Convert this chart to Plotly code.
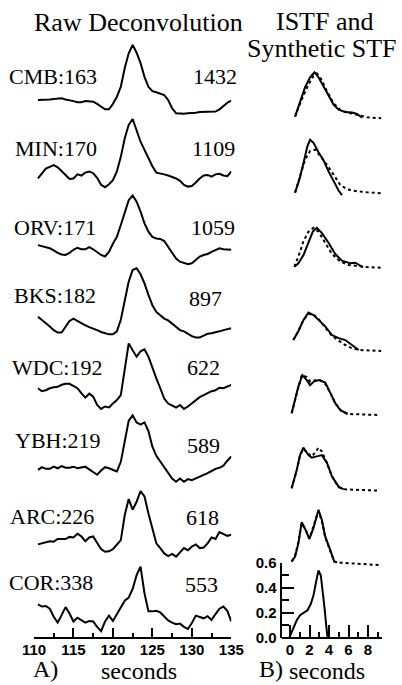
import plotly.graph_objects as go

W, H = 402, 685

# ---------------- data ----------------
STATIONS = ["CMB:163", "MIN:170", "ORV:171", "BKS:182", "WDC:192", "YBH:219", "ARC:226", "COR:338"]
AMPLITUDES = ["1432", "1109", "1059", "897", "622", "589", "618", "553"]

# sample times (s) of the raw deconvolutions
T_RAW = [110.5, 111.0, 111.5, 112.0, 112.5, 113.0, 113.5, 114.0, 114.5, 115.0,
         115.5, 116.0, 116.5, 117.0, 117.5, 118.0, 118.5, 119.0, 119.5, 120.0,
         120.5, 121.0, 121.5, 122.0, 122.5, 123.0, 123.5, 124.0, 124.5, 125.0,
         125.5, 126.0, 126.5, 127.0, 127.5, 128.0, 128.5, 129.0, 129.5, 130.0,
         130.5, 131.0, 131.5, 132.0, 132.5, 133.0, 133.5, 134.0, 134.5, 135.0]

RAW_CMB = [0.00, 0.00, 0.01, 0.01, 0.02, 0.03, 0.03, 0.01, 0.00, -0.02,
           -0.04, -0.04, -0.02, -0.02, -0.03, -0.07, -0.12, -0.17, -0.17, -0.07,
           0.06, 0.24, 0.58, 0.85, 1.00, 0.86, 0.67, 0.42, 0.24, 0.16,
           0.14, 0.12, 0.09, 0.00, -0.15, -0.24, -0.25, -0.25, -0.24, -0.24,
           -0.23, -0.22, -0.22, -0.22, -0.22, -0.21, -0.17, -0.11, -0.05, -0.01]
RAW_MIN = [-0.03, 0.06, 0.14, 0.17, 0.20, 0.16, 0.10, 0.03, -0.04, -0.03,
           0.04, 0.02, 0.07, 0.09, 0.06, -0.02, -0.14, -0.18, -0.13, -0.06,
           0.09, 0.34, 0.66, 0.89, 0.99, 0.80, 0.60, 0.46, 0.31, 0.18,
           0.07, 0.06, 0.04, 0.02, 0.00, -0.03, -0.07, -0.14, -0.17, -0.16,
           -0.10, -0.03, 0.02, 0.03, 0.00, 0.04, 0.05, 0.02, 0.01, 0.09]
RAW_ORV = [0.03, 0.01, -0.01, -0.03, -0.07, -0.12, -0.15, -0.16, -0.12, -0.06,
           -0.02, -0.05, -0.05, -0.01, -0.05, -0.10, -0.16, -0.19, -0.10, 0.06,
           0.19, 0.42, 0.68, 0.90, 0.99, 0.87, 0.68, 0.45, 0.29, 0.19,
           0.16, 0.15, 0.11, 0.00, -0.13, -0.23, -0.29, -0.32, -0.34, -0.32,
           -0.26, -0.19, -0.16, -0.14, -0.10, -0.06, -0.03, -0.05, -0.05, -0.06]
RAW_BKS = [0.19, 0.14, 0.08, 0.03, -0.03, -0.07, -0.07, 0.03, 0.12, 0.16,
           0.12, 0.08, 0.05, 0.02, 0.00, -0.03, -0.06, -0.08, -0.10, -0.10,
           -0.05, 0.14, 0.47, 0.77, 0.96, 0.99, 0.89, 0.74, 0.55, 0.38,
           0.27, 0.22, 0.16, 0.13, 0.08, 0.03, -0.03, -0.05, -0.09, -0.13,
           -0.15, -0.15, -0.12, -0.09, -0.08, -0.07, -0.05, -0.03, -0.02, 0.00]
RAW_WDC = [0.07, 0.01, 0.03, 0.07, 0.09, 0.10, 0.14, 0.16, 0.16, 0.12,
           0.07, -0.03, -0.12, -0.04, -0.10, -0.27, -0.35, -0.30, -0.32, -0.24,
           -0.17, -0.07, 0.41, 0.98, 0.84, 0.71, 0.82, 0.86, 0.71, 0.47,
           0.27, 0.07, -0.14, -0.24, -0.28, -0.32, -0.27, -0.35, -0.30, -0.24,
           -0.17, -0.11, -0.07, -0.03, 0.01, 0.03, 0.08, 0.07, 0.10, 0.14]
RAW_YBH = [-0.03, 0.02, -0.01, -0.01, 0.03, 0.00, 0.04, 0.01, 0.01, 0.03,
           0.00, 0.01, 0.03, -0.02, -0.07, -0.12, -0.04, 0.02, 0.00, -0.03,
           -0.06, 0.12, 0.49, 0.88, 0.98, 0.85, 0.81, 0.85, 0.69, 0.40,
           0.23, 0.12, 0.03, -0.09, -0.19, -0.25, -0.19, -0.25, -0.20, -0.22,
           -0.19, -0.15, -0.12, -0.09, -0.05, -0.01, 0.01, 0.05, 0.14, 0.22]
RAW_ARC = [-0.02, 0.00, 0.03, 0.04, 0.03, 0.08, 0.08, 0.08, 0.12, 0.11,
           0.18, 0.13, 0.04, 0.11, 0.13, 0.00, -0.11, -0.16, -0.15, -0.11,
           -0.03, 0.06, 0.53, 0.83, 0.63, 0.78, 0.98, 0.88, 0.56, 0.25,
           0.00, -0.09, -0.19, -0.24, -0.20, -0.25, -0.16, -0.09, -0.13, -0.06,
           -0.02, -0.09, -0.08, 0.00, 0.11, 0.08, 0.21, 0.17, 0.14, 0.16]
RAW_COR = [0.26, 0.22, 0.23, 0.18, 0.03, -0.08, 0.06, 0.21, 0.09, -0.06,
           0.01, -0.03, -0.08, -0.05, -0.06, -0.16, -0.24, -0.06, 0.05, -0.05,
           0.08, 0.20, 0.33, 0.39, 0.55, 0.81, 0.97, 0.47, 0.13, 0.13,
           0.14, 0.11, 0.03, -0.04, -0.08, -0.11, -0.10, -0.16, -0.20, -0.09,
           0.05, 0.03, 0.00, 0.04, -0.03, 0.08, 0.18, 0.22, 0.14, -0.06]
RAW = [RAW_CMB, RAW_MIN, RAW_ORV, RAW_BKS, RAW_WDC, RAW_YBH, RAW_ARC, RAW_COR]

# ISTF (solid) and synthetic STF (dotted): times (s) and values
ISTF_T = [
    [0.52, 1.03, 1.55, 2.06, 2.51, 2.92, 3.44, 3.95, 4.47, 4.98, 5.67, 6.36, 6.87, 7.22, 7.39],
    [0.52, 0.96, 1.37, 1.79, 2.06, 2.41, 2.92, 3.44, 3.95, 4.47, 4.98, 5.33],
    [0.45, 0.86, 1.37, 1.89, 2.34, 2.75, 3.26, 3.95, 4.64, 5.33, 6.19, 6.70, 7.15, 7.49],
    [0.34, 0.86, 1.37, 1.89, 2.41, 2.92, 3.61, 4.30, 4.98, 5.67, 6.19, 6.70, 7.04],
    [0.17, 0.52, 0.86, 1.27, 1.72, 2.06, 2.47, 3.02, 3.61, 4.12, 4.64, 5.15, 5.67, 5.91],
    [0.17, 0.69, 1.03, 1.37, 1.89, 2.23, 2.75, 3.26, 3.78, 4.30, 4.98, 5.50],
    [0.17, 0.52, 0.86, 1.20, 1.55, 1.99, 2.41, 2.92, 3.26, 3.61, 4.12, 4.54, 4.81],
    [-0.07, 0.34, 0.69, 1.03, 1.37, 1.79, 2.13, 2.41, 2.68, 2.92, 3.16, 3.37, 3.54, 3.71, 3.85],
]
ISTF_V = [
    [0.014, 0.135, 0.25, 0.33, 0.37, 0.33, 0.26, 0.18, 0.11, 0.07, 0.05, 0.046, 0.035, 0.014, 0.005],
    [0.005, 0.11, 0.24, 0.38, 0.43, 0.405, 0.33, 0.265, 0.176, 0.095, 0.022, -0.014],
    [0.008, 0.035, 0.10, 0.21, 0.29, 0.32, 0.28, 0.20, 0.11, 0.057, 0.035, 0.04, 0.022, 0.003],
    [0.08, 0.15, 0.24, 0.30, 0.28, 0.24, 0.19, 0.12, 0.095, 0.08, 0.049, 0.014, 0.0],
    [0.014, 0.12, 0.23, 0.32, 0.28, 0.24, 0.27, 0.28, 0.26, 0.18, 0.095, 0.04, 0.014, 0.008],
    [0.014, 0.16, 0.28, 0.34, 0.28, 0.26, 0.27, 0.28, 0.22, 0.11, 0.027, 0.005],
    [0.014, 0.054, 0.16, 0.33, 0.276, 0.195, 0.284, 0.43, 0.35, 0.216, 0.108, 0.014, 0.005],
    [0.0, 0.075, 0.14, 0.18, 0.195, 0.22, 0.27, 0.34, 0.45, 0.54, 0.50, 0.37, 0.24, 0.10, 0.0],
]
SYN_T = [
    [0.52, 1.20, 1.89, 2.41, 2.75, 3.16, 3.78, 4.47, 5.15, 5.84, 6.53, 7.22, 7.90, 9.35],
    [0.52, 1.03, 1.55, 2.06, 2.58, 3.09, 3.78, 4.47, 5.15, 5.84, 6.87, 7.90, 9.35],
    [0.45, 0.86, 1.37, 1.89, 2.41, 2.92, 3.61, 4.30, 5.15, 6.01, 6.87, 7.90, 9.35],
    [0.34, 0.86, 1.37, 1.89, 2.41, 2.92, 3.61, 4.30, 4.98, 5.67, 6.36, 7.22, 9.35],
    [0.17, 0.52, 0.86, 1.20, 1.72, 2.06, 2.58, 3.09, 3.61, 4.12, 4.64, 5.33, 6.01, 7.22, 9.21],
    [0.17, 0.69, 1.03, 1.37, 1.89, 2.23, 2.58, 2.92, 3.26, 3.78, 4.30, 4.98, 5.67, 7.22, 9.11],
    [0.17, 0.52, 0.86, 1.20, 1.55, 1.99, 2.41, 2.92, 3.26, 3.61, 4.12, 4.54, 5.15, 7.22, 9.11],
    [],
]
SYN_V = [
    [0.014, 0.15, 0.27, 0.34, 0.36, 0.32, 0.22, 0.12, 0.068, 0.046, 0.035, 0.019, 0.008, 0.0],
    [0.005, 0.135, 0.27, 0.34, 0.35, 0.30, 0.23, 0.15, 0.068, 0.032, 0.016, 0.008, 0.0],
    [0.008, 0.09, 0.21, 0.29, 0.32, 0.29, 0.20, 0.11, 0.049, 0.022, 0.014, 0.005, 0.0],
    [0.08, 0.154, 0.24, 0.29, 0.284, 0.25, 0.18, 0.114, 0.076, 0.04, 0.014, 0.0, -0.008],
    [0.014, 0.116, 0.23, 0.32, 0.305, 0.27, 0.28, 0.28, 0.25, 0.18, 0.095, 0.027, 0.008, 0.005, 0.0],
    [0.014, 0.157, 0.276, 0.33, 0.29, 0.27, 0.30, 0.34, 0.31, 0.22, 0.11, 0.022, 0.005, 0.0, -0.005],
    [0.014, 0.06, 0.17, 0.32, 0.28, 0.20, 0.30, 0.42, 0.34, 0.21, 0.10, 0.014, 0.005, -0.005, -0.014],
    [],
]

RAW_TICKS = [110, 115, 120, 125, 130, 135]
STF_XTICKS = [0, 2, 4, 6, 8]
STF_YTICKS = [0.0, 0.2, 0.4, 0.6]

# ---------------- layout geometry (pixels) ----------------
AXIS_Y = 637.7
ROW_BASE_L = [100, 176.7, 246.7, 328.3, 391.7, 468.3, 543.3, 618.3]
ROW_SCALE_L = [55, 58.3, 51.7, 60.7, 49.3, 54, 53.3, 53.3]
ROW_BASE_R = [118.3, 193.3, 267.7, 350, 415, 490, 563.3, AXIS_Y]
SCALE_R = 124.5
LABEL_Y = [77, 148, 227, 295, 367, 440, 516, 582]
LABEL_X = [7, 13, 12, 12, 10, 13, 8, 7]
NUM_Y = [76, 148, 227, 298, 367, 445, 517, 584]
NUM_X = [191, 190, 189, 187, 185, 185, 184, 183]

def px(x):
    return x / W

def py(y):
    return 1 - y / H

SERIF = "Liberation Serif, Times New Roman, serif"
TICKFONT = dict(family="Liberation Sans, Arial, sans-serif", size=15, color="black", weight="bold")

fig = go.Figure()
layout = {}

# x axes
layout["xaxis"] = dict(domain=[px(34), px(231.3)], range=[110, 135], anchor="free",
                       position=py(AXIS_Y), showline=True, linecolor="black", linewidth=2,
                       ticks="inside", ticklen=9, tickwidth=2, tickcolor="black",
                       tickvals=RAW_TICKS, showgrid=False, zeroline=False,
                       ticklabelstandoff=-2,
                       minor=dict(ticks="inside", ticklen=4, tickwidth=2, tickcolor="black",
                                  dtick=2.5, tick0=110, showgrid=False),
                       tickfont=TICKFONT)
layout["xaxis2"] = dict(domain=[px(281.5), px(381.7)], range=[-0.87, 9.4], anchor="free",
                        position=py(AXIS_Y), showline=True, linecolor="black", linewidth=2,
                        ticks="inside", ticklen=12, tickwidth=2, tickcolor="black",
                        tickvals=STF_XTICKS, showgrid=False, zeroline=False,
                        ticklabelstandoff=-2,
                        minor=dict(ticks="inside", ticklen=5, tickwidth=2, tickcolor="black",
                                   dtick=1, tick0=0, showgrid=False),
                        tickfont=TICKFONT)

ax = 1
for i in range(8):
    # left raw deconvolution
    base, sc = ROW_BASE_L[i], ROW_SCALE_L[i]
    name = "yaxis" if ax == 1 else f"yaxis{ax}"
    layout[name] = dict(domain=[0, 1], range=[-(H - base) / sc, base / sc], anchor="x",
                        visible=False, fixedrange=True)
    fig.add_trace(go.Scatter(x=T_RAW, y=RAW[i], mode="lines", xaxis="x",
                             yaxis="y" if ax == 1 else f"y{ax}",
                             line=dict(color="black", width=2), showlegend=False,
                             hoverinfo="skip"))
    ax += 1
    # right STFs
    name = f"yaxis{ax}"
    if i < 7:
        baseR = ROW_BASE_R[i]
        layout[name] = dict(domain=[0, 1], range=[-(H - baseR) / SCALE_R, baseR / SCALE_R],
                            anchor="x2", visible=False, fixedrange=True)
    else:
        layout[name] = dict(domain=[py(AXIS_Y), py(AXIS_Y - 0.6 * SCALE_R)], range=[0, 0.6],
                            anchor="x2", showline=True, linecolor="black", linewidth=2,
                            ticks="inside", ticklen=12, tickwidth=2, tickcolor="black",
                            tickvals=STF_YTICKS, ticktext=["0.0", "0.2", "0.4", "0.6"],
                            showgrid=False, zeroline=False,
                            minor=dict(ticks="inside", ticklen=7, tickwidth=2, tickcolor="black",
                                       dtick=0.1, tick0=0, showgrid=False),
                            tickfont=TICKFONT)
    if SYN_T[i]:
        fig.add_trace(go.Scatter(x=SYN_T[i], y=SYN_V[i], mode="lines", xaxis="x2", yaxis=f"y{ax}",
                                 line=dict(color="black", width=2, dash="dot"), showlegend=False,
                                 hoverinfo="skip"))
    fig.add_trace(go.Scatter(x=ISTF_T[i], y=ISTF_V[i], mode="lines", xaxis="x2", yaxis=f"y{ax}",
                             line=dict(color="black", width=2), showlegend=False,
                             hoverinfo="skip"))
    ax += 1

annotations = []

def text(s, x, y, size, xanchor="left", yanchor="middle"):
    annotations.append(dict(text=s, x=px(x), y=py(y), xref="paper", yref="paper",
                            xanchor=xanchor, yanchor=yanchor, showarrow=False,
                            font=dict(family=SERIF, size=size, color="black")))

for i in range(8):
    text(STATIONS[i], LABEL_X[i], LABEL_Y[i], 22)
    text(AMPLITUDES[i], NUM_X[i], NUM_Y[i], 22)

text("Raw Deconvolution", 138, 22, 26, xanchor="center")
text("ISTF and", 325, 21, 26, xanchor="center")
text("Synthetic STF", 322, 48, 26, xanchor="center")
text("A)", 31, 669, 24)
text("seconds", 99, 671, 24)
text("B)", 257, 669, 24)
text("seconds", 287, 671, 24)

layout.update(dict(width=W, height=H, margin=dict(l=0, r=0, t=0, b=0, autoexpand=False),
                   paper_bgcolor="white", plot_bgcolor="rgba(0,0,0,0)",
                   annotations=annotations, showlegend=False))
fig.update_layout(**layout)
fig.write_html("out.html", config={"displayModeBar": False},
               post_script="document.body.style.margin='0';")
